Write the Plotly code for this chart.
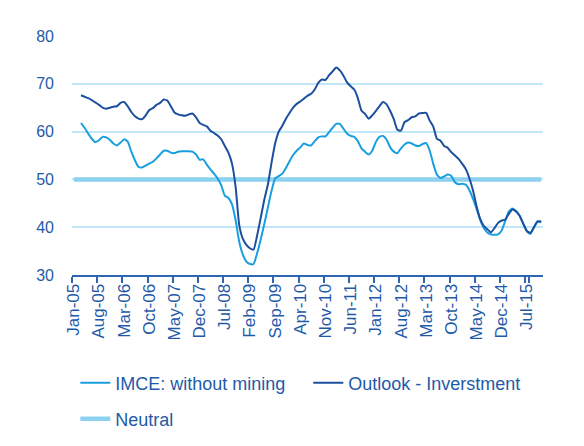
import pandas as pd
import plotly.graph_objects as go

# monthly categories Jan-05 .. Nov-15
months = [d.strftime("%b-%y") for d in pd.date_range("2005-01-01", "2015-11-01", freq="MS")]
tick_labels = months[::7]

# series (first two months not available)
imce = [None, None,
        61.8, 60.8, 59.6, 58.5, 57.8, 58.2, 58.9, 58.8, 58.3, 57.5,
        57.1, 57.7, 58.4, 57.9, 55.8, 54.0, 52.6, 52.5, 52.9, 53.3,
        53.7, 54.4, 55.2, 56.0, 56.0, 55.6, 55.5, 55.8, 55.9, 55.9,
        55.9, 55.8, 55.2, 54.1, 54.2, 53.1, 52.1, 51.2, 50.2, 48.8,
        46.6, 46.1, 44.8, 41.5, 37.0, 34.3, 32.8, 32.3, 32.3, 34.6,
        37.5, 40.7, 44.2, 47.6, 50.2, 50.7, 51.2, 52.4, 53.8, 55.1,
        56.0, 56.7, 57.5, 57.2, 57.1, 58.0, 58.8, 59.0, 59.0, 59.9,
        60.8, 61.6, 61.6, 60.6, 59.6, 59.1, 58.9, 58.0, 56.5, 55.8,
        55.2, 56.0, 57.8, 58.9, 59.1, 58.3, 56.7, 55.8, 55.5, 56.5,
        57.3, 57.7, 57.5, 57.1, 57.0, 57.4, 57.6, 56.0, 53.2, 51.0,
        50.3, 50.6, 51.0, 50.7, 49.4, 49.0, 49.1, 48.9, 47.8, 46.0,
        43.9, 41.6, 39.9, 38.9, 38.5, 38.4, 38.5, 39.3, 41.3, 43.3,
        43.9, 43.4, 42.4, 40.8, 39.2, 38.6, 40.0, 41.2, 41.0]

outlook = [None, None,
           67.6, 67.3, 67.0, 66.6, 66.1, 65.6, 65.0, 64.8, 65.0, 65.2,
           65.3, 66.0, 66.2, 65.3, 64.1, 63.2, 62.7, 62.6, 63.4, 64.5,
           64.9, 65.6, 66.0, 66.7, 66.5, 65.3, 64.0, 63.6, 63.4, 63.3,
           63.6, 63.8, 63.0, 61.8, 61.4, 61.1, 60.2, 59.7, 59.2, 58.4,
           57.0, 55.6, 53.3, 48.5, 40.5, 37.6, 36.3, 35.6, 35.3, 38.3,
           42.0, 45.8, 49.0, 53.5, 57.5, 60.0, 61.2, 62.7, 63.9, 65.0,
           65.8, 66.3, 66.9, 67.5, 67.9, 68.8, 70.2, 70.9, 70.8, 71.8,
           72.6, 73.4, 72.8, 71.7, 70.3, 69.5, 68.8, 67.0, 64.4, 63.7,
           62.7, 63.4, 64.3, 65.3, 66.2, 65.7, 64.3, 62.6, 60.4, 60.2,
           62.0, 62.4, 63.0, 63.2, 63.8, 63.9, 63.9, 62.3, 61.0, 58.5,
           58.1, 57.0, 56.6, 55.7, 55.0, 54.3, 53.3, 52.2, 50.3, 47.8,
           44.5, 41.8, 40.3, 39.6, 38.9, 39.8, 40.9, 41.4, 41.6, 42.8,
           43.7, 43.3, 42.4, 40.7, 39.2, 38.8, 40.0, 41.2, 41.2]

neutral = [50] * len(months)

text_col = "#1F5AA8"
font = "Liberation Sans, Arial, sans-serif"

fig = go.Figure()
fig.add_trace(go.Scatter(x=months, y=neutral, name="Neutral", mode="lines",
                         line=dict(color="#8DD1F1", width=4.5), legend="legend2"))
fig.add_trace(go.Scatter(x=months, y=imce, name="IMCE: without mining", mode="lines",
                         line=dict(color="#1A9FDE", width=2, shape="spline", smoothing=0.5)))
fig.add_trace(go.Scatter(x=months, y=outlook, name="Outlook - Inverstment", mode="lines",
                         line=dict(color="#1C4F9E", width=2, shape="spline", smoothing=0.5)))

# page body has an 8px margin, so the figure is a bit smaller than the window
fig.update_layout(
    width=576, height=438,
    margin=dict(l=64, r=41, t=28, b=171),
    paper_bgcolor="white", plot_bgcolor="white",
    font=dict(family=font, color=text_col, size=17),
    legend=dict(orientation="h", x=0.007, xanchor="left",
                yref="container", y=0.186, yanchor="top",
                entrywidth=188, traceorder="normal", font=dict(size=18),
                bgcolor="rgba(0,0,0,0)"),
    legend2=dict(orientation="h", x=0.007, xanchor="left",
                 yref="container", y=0.104, yanchor="top",
                 font=dict(size=18), bgcolor="rgba(0,0,0,0)"),
)
fig.update_xaxes(type="category", categoryorder="array", categoryarray=months,
                 tickmode="array", tickvals=tick_labels, ticktext=tick_labels,
                 tickangle=-90, tickson="boundaries", ticks="outside", ticklen=6,
                 tickcolor="#2E64B0", tickwidth=2,
                 showline=True, linecolor="#2E64B0", linewidth=2,
                 showgrid=False, range=[-0.5, len(months) - 0.5],
                 tickfont=dict(size=17, color=text_col))
fig.update_yaxes(range=[30, 80], dtick=10, showgrid=True, gridcolor="#C2E7F8",
                 gridwidth=2, zeroline=False, showline=False, ticks="",
                 ticklabelstandoff=17, tickfont=dict(size=16, color=text_col))

fig.write_html("out.html")
